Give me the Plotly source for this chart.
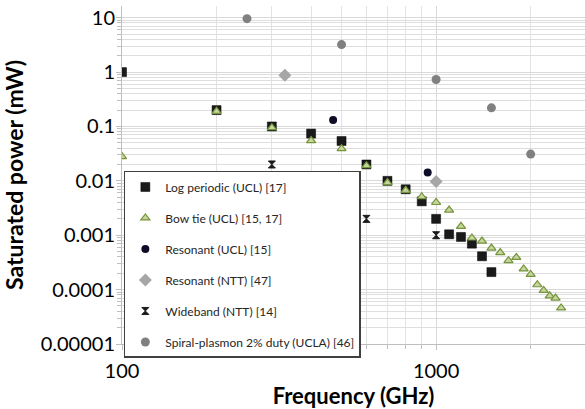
import plotly.graph_objects as go

# ---- data ----
log_periodic_f = [100, 200, 300, 400, 500, 600, 700, 800, 900, 1000, 1100, 1200, 1300, 1400, 1500]
log_periodic_p = [1.0, 0.2, 0.1, 0.074, 0.054, 0.020, 0.010, 0.0070, 0.0042, 0.0020,
                  0.00104, 0.00093, 0.00070, 0.00041, 0.00021]

bow_tie_f = [100, 200, 300, 400, 500, 600, 700, 800, 900, 1000, 1100, 1200, 1300,
             1400, 1500, 1600, 1700, 1800, 1900, 2000, 2100, 2200, 2300, 2400, 2500]
bow_tie_p = [0.028, 0.19, 0.095, 0.055, 0.039, 0.019, 0.0093, 0.0067, 0.0051, 0.004,
             0.0029, 0.00146, 0.00089, 0.00078, 0.00058, 0.00048, 0.00034, 0.00039,
             0.00024, 0.00019, 0.000123, 0.0000966, 0.000077, 0.00007, 0.000046]

resonant_ucl_f = [470, 940]
resonant_ucl_p = [0.132, 0.0142]

resonant_ntt_f = [330, 1000]
resonant_ntt_p = [0.87, 0.0097]

wideband_f = [300, 600, 1000]
wideband_p = [0.02, 0.002, 0.001]

spiral_f = [250, 500, 1000, 1500, 2000]
spiral_p = [9.6, 3.2, 0.73, 0.22, 0.031]

y_tickvals = [10, 1, 0.1, 0.01, 0.001, 0.0001, 0.00001]
y_ticktext = ["10", "1", "0.1", "0.01", "0.001", "0.0001", "0.00001"]
x_tickvals = [100, 1000]
x_ticktext = ["100", "1000"]
x_minor_vals = [200, 300, 400, 500, 600, 700, 800, 900, 2000]
y_minor_vals = [m * 10.0 ** e for e in range(-5, 2) for m in range(2, 10)]

FONT = "Lato, Open Sans, sans-serif"

fig = go.Figure()
series = [
    ("Log periodic (UCL) [17]", log_periodic_f, log_periodic_p,
     dict(symbol="square", size=9, color="#1a1a1a", line=dict(color="#000000", width=0.5))),
    ("Bow tie (UCL) [15, 17]", bow_tie_f, bow_tie_p,
     dict(symbol="triangle-up", size=8, color="#c3d69b", line=dict(color="#77933c", width=1.2))),
    ("Resonant (UCL) [15]", resonant_ucl_f, resonant_ucl_p,
     dict(symbol="circle", size=8, color="#0d0d26", line=dict(width=0))),
    ("Resonant (NTT) [47]", resonant_ntt_f, resonant_ntt_p,
     dict(symbol="diamond", size=10, color="#a6a6a6", line=dict(width=0))),
    ("Wideband (NTT) [14]", wideband_f, wideband_p,
     dict(symbol="hourglass", size=7, color="#1a1a1a", line=dict(color="#1a1a1a", width=1))),
    ("Spiral-plasmon 2% duty (UCLA) [46]", spiral_f, spiral_p,
     dict(symbol="circle", size=9, color="#808080", line=dict(width=0))),
]
for i, (name, fx, py, mk) in enumerate(series):
    fig.add_trace(go.Scatter(x=fx, y=py, mode="markers", name=name, marker=mk,
                             legendgroup=f"g{i}"))

fig.update_layout(
    width=585, height=409,
    margin=dict(l=122, r=0, t=6, b=65),
    paper_bgcolor="white", plot_bgcolor="white",
    font=dict(family=FONT, color="#000000"),
    showlegend=True,
    legend=dict(
        x=0.004, y=0.512, xanchor="left", yanchor="top",
        bgcolor="white", bordercolor="#404040", borderwidth=1.5,
        font=dict(family=FONT, size=12, color="#262626"),
        tracegroupgap=12, itemwidth=30,
    ),
)

fig.update_xaxes(
    type="log", range=[2, 3.474],
    tickvals=x_tickvals, ticktext=x_ticktext,
    tickfont=dict(family=FONT, size=20, color="#000000"),
    ticks="outside", ticklen=5, tickcolor="#bfbfbf",
    showline=True, linecolor="#bfbfbf", linewidth=1,
    showgrid=True, gridcolor="#d9d9d9", gridwidth=1,
    minor=dict(tickvals=x_minor_vals, ticks="outside", ticklen=4, tickcolor="#bfbfbf",
               showgrid=True, gridcolor="#e3e3e3", gridwidth=1),
    ticklabelstandoff=4,
    title=dict(text="<b>Frequency (GHz)</b>", font=dict(family=FONT, size=22, color="#000000"),
               standoff=0),
    zeroline=False,
)
fig.update_yaxes(
    type="log", range=[-5, 1.215],
    tickvals=y_tickvals, ticktext=y_ticktext,
    tickfont=dict(family=FONT, size=20, color="#000000"),
    ticks="outside", ticklen=5, tickcolor="#bfbfbf",
    showline=True, linecolor="#bfbfbf", linewidth=1,
    showgrid=True, gridcolor="#d9d9d9", gridwidth=1,
    minor=dict(tickvals=y_minor_vals, ticks="outside", ticklen=4, tickcolor="#bfbfbf",
               showgrid=True, gridcolor="#dedede", gridwidth=1),
    ticklabelstandoff=-3,
    title=dict(text="<b>Saturated power (mW)</b>", font=dict(family=FONT, size=23, color="#000000"),
               standoff=13),
    zeroline=False,
)

fig.write_html("out.html")
